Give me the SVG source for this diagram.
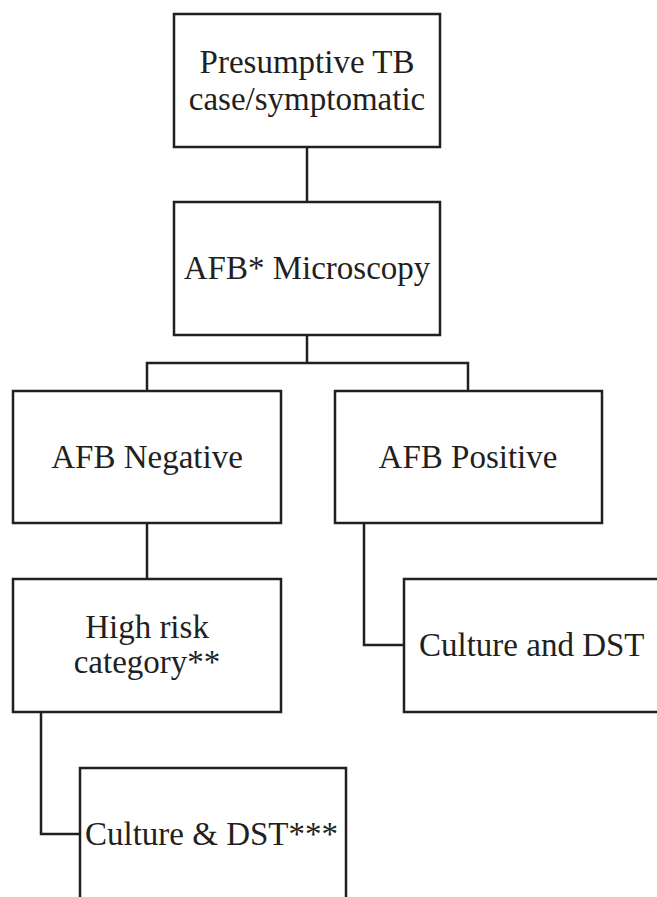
<svg xmlns="http://www.w3.org/2000/svg" width="657" height="897" viewBox="0 0 657 897">
<style>
.box{fill:#fff;stroke:#231f20;stroke-width:2.5}
.t{font-family:"Liberation Serif","Times New Roman",serif;font-size:33px;fill:#231f20;text-anchor:middle}
.ts{font-family:"Liberation Serif","Times New Roman",serif;font-size:33px;fill:#231f20}
.c{fill:none;stroke:#231f20;stroke-width:2.5}
</style>
<rect width="657" height="897" fill="#fff"/>
<g id="connectors">
<path class="c" d="M307,147V202"/>
<path class="c" d="M307,335V363M147,391V363H468V391"/>
<path class="c" d="M147,523V579"/>
<path class="c" d="M364,523V645H404"/>
<path class="c" d="M41,712V834H80"/>
</g>
<g id="n1">
<rect class="box" x="174" y="14" width="266" height="133"/>
<text class="t" x="307" y="73">Presumptive TB</text>
<text class="t" x="307" y="110">case/symptomatic</text>
</g>
<g id="n2">
<rect class="box" x="174" y="202" width="266" height="133"/>
<text class="t" x="307" y="279">AFB* Microscopy</text>
</g>
<g id="n3">
<rect class="box" x="13" y="391" width="268" height="132"/>
<text class="t" x="147" y="468">AFB Negative</text>
</g>
<g id="n4">
<rect class="box" x="335" y="391" width="267" height="132"/>
<text class="t" x="468" y="468">AFB Positive</text>
</g>
<g id="n5">
<rect class="box" x="13" y="579" width="268" height="133"/>
<text class="t" x="147" y="638">High risk</text>
<text class="t" x="147" y="673">category**</text>
</g>
<g id="n6">
<rect class="box" x="404" y="579" width="280" height="133"/>
<text class="ts" x="419" y="656">Culture and DST</text>
</g>
<g id="n7">
<rect class="box" x="80" y="768" width="266" height="160"/>
<text class="ts" x="85" y="845">Culture &amp; DST***</text>
</g>
</svg>
